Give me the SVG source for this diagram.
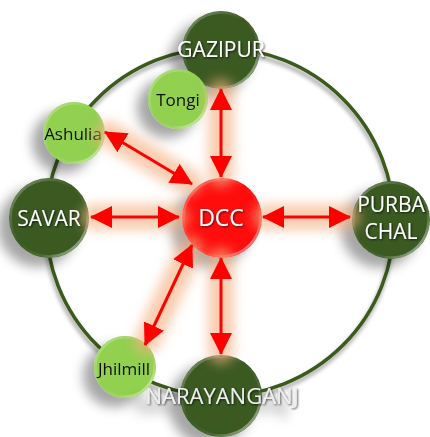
<svg xmlns="http://www.w3.org/2000/svg" width="430" height="437" viewBox="0 0 430 437">
<style>
.dark{fill:#3a5a22}
.light{fill:#92d050}
.red{fill:#ff0d0d}
.rim{fill:none;stroke:url(#rimg);stroke-width:2.5}
.t{font-family:"Open Sans","Noto Sans",sans-serif;text-anchor:middle}
.tw{fill:#ffffff;font-size:21px;filter:url(#ts)}
.tb{fill:#111111;font-size:17px}
.arr{stroke:#ff0000;stroke-width:3;fill:none;marker-start:url(#ah);marker-end:url(#ah)}
.glow{stroke:#f6b084;stroke-width:26;stroke-linecap:round;fill:none;opacity:0.65}
</style>
<defs>
<filter id="sh" x="-60%" y="-60%" width="220%" height="220%">
<feGaussianBlur in="SourceAlpha" stdDeviation="6"/>
<feOffset dx="-11" dy="9" result="b"/>
<feFlood flood-color="#000" flood-opacity="0.35"/>
<feComposite in2="b" operator="in" result="s"/>
<feMerge><feMergeNode in="s"/><feMergeNode in="SourceGraphic"/></feMerge>
</filter>
<filter id="rsh" x="-10%" y="-10%" width="120%" height="120%">
<feGaussianBlur in="SourceAlpha" stdDeviation="2"/>
<feOffset dx="-1" dy="4" result="b"/>
<feFlood flood-color="#000" flood-opacity="0.4"/>
<feComposite in2="b" operator="in" result="s"/>
<feMerge><feMergeNode in="s"/><feMergeNode in="SourceGraphic"/></feMerge>
</filter>
<filter id="ts" x="-10%" y="-30%" width="120%" height="160%">
<feGaussianBlur in="SourceAlpha" stdDeviation="0.8"/>
<feOffset dx="1" dy="1.2" result="b"/>
<feFlood flood-color="#000" flood-opacity="0.7"/>
<feComposite in2="b" operator="in" result="s"/>
<feMerge><feMergeNode in="s"/><feMergeNode in="SourceGraphic"/></feMerge>
</filter>
<filter id="blur" filterUnits="userSpaceOnUse" x="0" y="0" width="430" height="437">
<feGaussianBlur stdDeviation="6"/>
</filter>
<linearGradient id="rimg" x1="0" y1="0" x2="1" y2="1">
<stop offset="0" stop-color="#fff" stop-opacity="0.35"/>
<stop offset="0.45" stop-color="#fff" stop-opacity="0"/>
<stop offset="0.7" stop-color="#fff" stop-opacity="0.1"/>
<stop offset="1" stop-color="#fff" stop-opacity="0.7"/>
</linearGradient>
<marker id="ah" viewBox="0 0 22 22" refX="21" refY="11" markerWidth="22" markerHeight="22" markerUnits="userSpaceOnUse" orient="auto-start-reverse">
<path d="M0,0 L22,11 L0,22 z" fill="#ff0000"/>
</marker>
</defs>
<rect width="430" height="437" fill="#ffffff"/>
<g id="ring">
<circle cx="220" cy="222" r="174" fill="none" stroke="#3a5a1c" stroke-width="3.5" filter="url(#rsh)"/>
</g>
<g id="gazipur" filter="url(#sh)">
<circle class="dark" cx="221" cy="50" r="39"/><circle class="rim" cx="221" cy="50" r="37.5"/>
<text class="t tw" x="221" y="57">GAZIPUR</text>
</g>
<g id="tongi" filter="url(#sh)">
<circle class="light" cx="178" cy="99" r="30"/><circle class="rim" cx="178" cy="99" r="28.5"/>
<text class="t tb" x="178" y="106">Tongi</text>
</g>
<g id="ashulia" filter="url(#sh)">
<circle class="light" cx="74" cy="133" r="31"/><circle class="rim" cx="74" cy="133" r="29.5"/>
<text class="t tb" x="73" y="140">Ashulia</text>
</g>
<g id="savar" filter="url(#sh)">
<circle class="dark" cx="49" cy="218" r="40"/><circle class="rim" cx="49" cy="218" r="38.5"/>
<text class="t tw" x="49" y="226">SAVAR</text>
</g>
<g id="dcc" filter="url(#sh)">
<circle class="red" cx="222" cy="218" r="40"/><circle class="rim" cx="222" cy="218" r="38.5"/>
<text class="t tw" x="221" y="226" style="font-size:23px">DCC</text>
</g>
<g id="purbachal" filter="url(#sh)">
<circle class="dark" cx="391" cy="220" r="39"/><circle class="rim" cx="391" cy="220" r="37.5"/>
<text class="t tw" x="391" y="212">PURBA</text>
<text class="t tw" x="391" y="239">CHAL</text>
</g>
<g id="jhilmill" filter="url(#sh)">
<circle class="light" cx="125" cy="367" r="31"/><circle class="rim" cx="125" cy="367" r="29.5"/>
<text class="t tb" x="124" y="375">Jhilmill</text>
</g>
<g id="narayanganj" filter="url(#sh)">
<circle class="dark" cx="221" cy="396" r="41"/><circle class="rim" cx="221" cy="396" r="39.5"/>
<text class="t tw" x="222" y="404" style="fill:#eeeeee;font-size:22px">NARAYANGANJ</text>
</g>
<g id="connectors">
<g filter="url(#blur)">
<line class="glow" x1="221" y1="92" x2="221" y2="174"/>
<line class="glow" x1="108" y1="134" x2="189" y2="182"/>
<line class="glow" x1="94" y1="217" x2="176" y2="217"/>
<line class="glow" x1="266" y1="217" x2="347" y2="217"/>
<line class="glow" x1="147" y1="341" x2="190" y2="249"/>
<line class="glow" x1="221" y1="261" x2="221" y2="351"/>
</g>
<line class="arr" x1="221" y1="89" x2="221" y2="177"/>
<line class="arr" x1="105" y1="132" x2="192" y2="184"/>
<line class="arr" x1="91" y1="217" x2="179" y2="217"/>
<line class="arr" x1="263" y1="217" x2="350" y2="217"/>
<line class="arr" x1="145" y1="345" x2="192" y2="245"/>
<line class="arr" x1="221" y1="258" x2="221" y2="354"/>
</g>
</svg>
